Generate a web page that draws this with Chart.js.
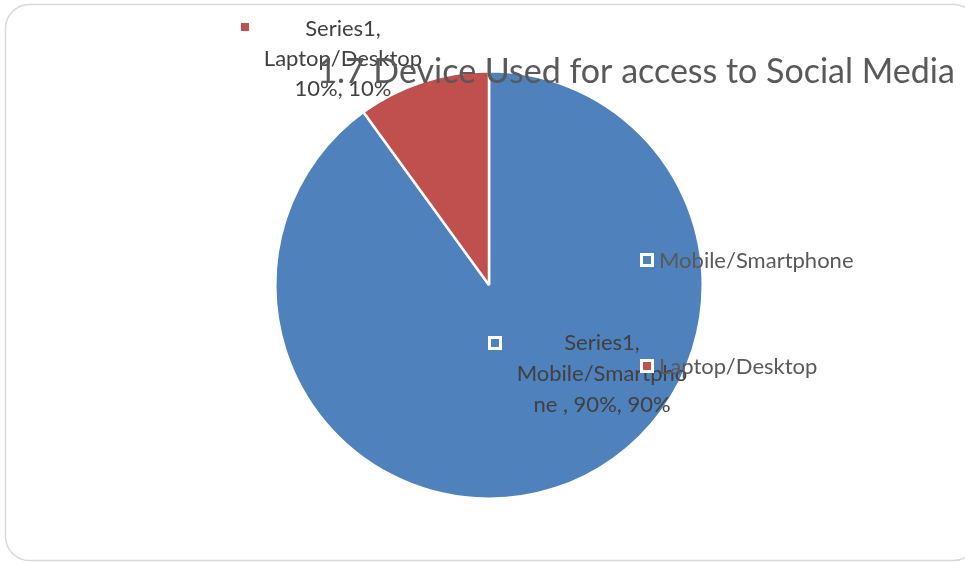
<!DOCTYPE html>
<html>
<head>
<meta charset="utf-8">
<script src="https://cdn.jsdelivr.net/npm/chart.js@4"></script>
<style>
  html, body { margin: 0; padding: 0; background: #fff; }
  #wrap { width: 965px; height: 563px; position: relative; }
</style>
</head>
<body>
<div id="wrap"><canvas id="deviceChart" width="965" height="563"></canvas></div>
<script>
const seriesName = 'Series1';
const categories = ['Mobile/Smartphone', 'Laptop/Desktop'];
const shares = [90, 10];
const sliceColors = ['#4F81BD', '#C0504D'];
const chartTitle = '1.7 Device Used for access to Social Media';

const FONT = 'Lato, Carlito, Calibri, sans-serif';

// rounded frame behind the chart
const framePlugin = {
  id: 'frame',
  beforeDraw(chart) {
    const ctx = chart.ctx;
    ctx.save();
    ctx.fillStyle = '#fff';
    ctx.fillRect(0, 0, chart.width, chart.height);
    ctx.strokeStyle = '#D9D9D9';
    ctx.lineWidth = 1.5;
    ctx.beginPath();
    ctx.roundRect(5.5, 4.5, 972, 556, 24);
    ctx.stroke();
    ctx.restore();
  }
};

function marker(ctx, x, y, color, bordered) {
  if (bordered) {
    ctx.fillStyle = '#fff';
    ctx.fillRect(x - 7, y - 7, 14, 14);
    ctx.fillStyle = color;
    ctx.fillRect(x - 4, y - 4, 8, 8);
  } else {
    ctx.fillStyle = color;
    ctx.fillRect(x - 4, y - 4, 8, 8);
  }
}

// data labels, legend and title drawn on top of the pie
const overlayPlugin = {
  id: 'overlay',
  afterDraw(chart) {
    const ctx = chart.ctx;
    const arcs = chart.getDatasetMeta(0).data;
    const cx = arcs[0].x, cy = arcs[0].y, r = arcs[0].outerRadius;
    ctx.save();
    ctx.textBaseline = 'middle';

    // data labels
    ctx.font = '22px ' + FONT;
    ctx.textAlign = 'center';
    const mobileLines = [seriesName + ',', 'Mobile/Smartpho', 'ne , ' + shares[0] + '%, ' + shares[0] + '%'];
    const mx = cx + 113, my = cy + 58;
    marker(ctx, cx + 6, my, sliceColors[0], true);
    ctx.fillStyle = '#404040';
    mobileLines.forEach((t, i) => ctx.fillText(t, mx, my + i * 31));

    const laptopLines = [seriesName + ',', categories[1], shares[1] + '%, ' + shares[1] + '%'];
    const lx = cx - 146, ly = cy - 256;
    marker(ctx, cx - 244, ly - 2, sliceColors[1], false);
    ctx.fillStyle = '#404040';
    laptopLines.forEach((t, i) => ctx.fillText(t, lx, ly + i * 30));

    // legend
    ctx.textAlign = 'left';
    const legX = cx + 158;
    [cy - 25, cy + 81].forEach((y, i) => {
      marker(ctx, legX, y, sliceColors[i], true);
      ctx.fillStyle = '#595959';
      ctx.fillText(categories[i], legX + 12, y + 1);
    });

    // title
    ctx.font = '34px ' + FONT;
    ctx.fillStyle = '#595959';
    ctx.textAlign = 'center';
    ctx.fillText(chartTitle, 636, 72);
    ctx.restore();
  }
};

new Chart(document.getElementById('deviceChart').getContext('2d'), {
  type: 'pie',
  data: {
    labels: categories,
    datasets: [{
      label: seriesName,
      data: shares,
      backgroundColor: sliceColors,
      borderColor: '#fff',
      borderWidth: 2.5
    }]
  },
  options: {
    responsive: false,
    animation: false,
    layout: { padding: { left: 274, right: 261, top: 70, bottom: 63 } },
    plugins: {
      legend: { display: false },
      tooltip: { enabled: false },
      title: { display: false }
    }
  },
  plugins: [framePlugin, overlayPlugin]
});
</script>
</body>
</html>
